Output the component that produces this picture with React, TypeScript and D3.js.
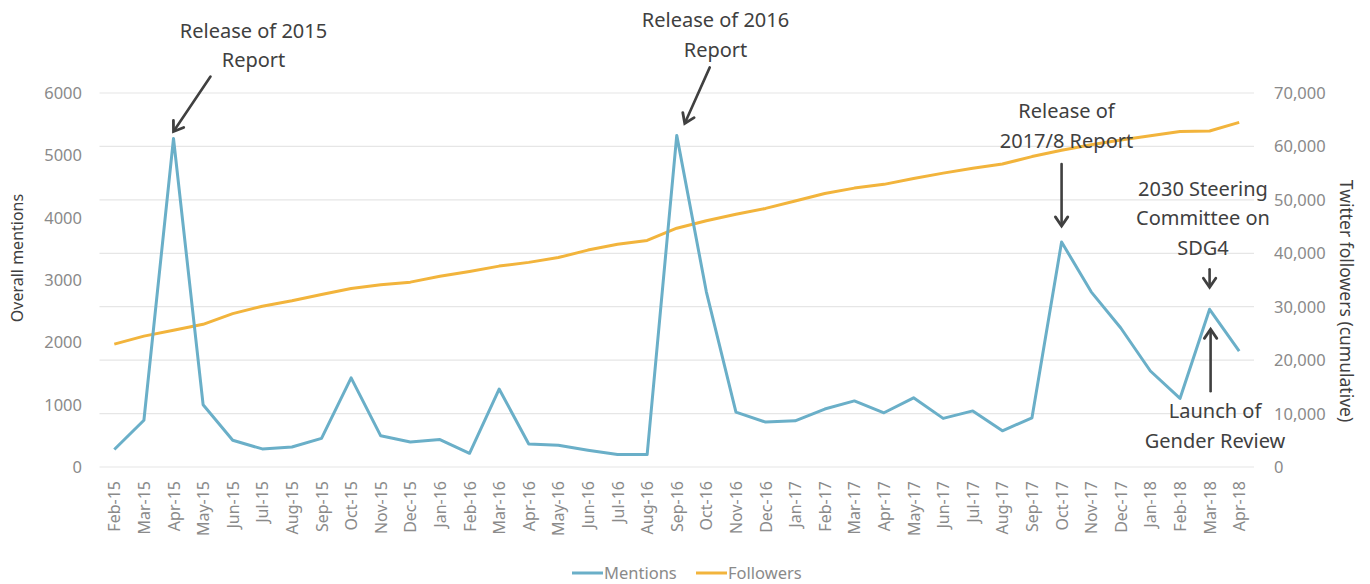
import React from "react";
import * as d3 from "d3";

const months: string[] = [
  "Feb-15","Mar-15","Apr-15","May-15","Jun-15","Jul-15","Aug-15","Sep-15","Oct-15","Nov-15","Dec-15",
  "Jan-16","Feb-16","Mar-16","Apr-16","May-16","Jun-16","Jul-16","Aug-16","Sep-16","Oct-16","Nov-16","Dec-16",
  "Jan-17","Feb-17","Mar-17","Apr-17","May-17","Jun-17","Jul-17","Aug-17","Sep-17","Oct-17","Nov-17","Dec-17",
  "Jan-18","Feb-18","Mar-18","Apr-18",
];

const mentions: number[] = [
  280, 750, 5270, 1000, 430, 290, 320, 460, 1430, 500, 400,
  440, 220, 1250, 370, 350, 270, 200, 200, 5320, 2810, 880, 720,
  740, 930, 1060, 870, 1110, 780, 900, 580, 790, 3610, 2810, 2230,
  1540, 1100, 2530, 1860,
];

const followers: number[] = [
  23000, 24500, 25600, 26700, 28700, 30100, 31100, 32300, 33400, 34100, 34600,
  35700, 36600, 37600, 38300, 39200, 40600, 41700, 42400, 44700, 46100, 47300, 48400,
  49800, 51200, 52200, 52900, 54000, 55000, 55900, 56700, 58100, 59300, 60300, 61200,
  62000, 62800, 62900, 64500,
];

const leftTicks: number[] = [0, 1000, 2000, 3000, 4000, 5000, 6000];
const rightTicks: number[] = [0, 10000, 20000, 30000, 40000, 50000, 60000, 70000];

const seriesNames: string[] = ["Mentions", "Followers"];
const seriesColors: string[] = ["#6aafc8", "#f2b43c"];

const W = 1370;
const H = 584;
const FONT = "'Noto Sans', 'Open Sans', sans-serif";
const TEXT_DARK = "#404040";
const TEXT_GRAY = "#8a8a8a";
const GRID = "#e6e6e6";

const plotLeft = 99.5;
const plotRight = 1254;
const plotTop = 93;
const plotBottom = 467;

function Arrow({ x1, y1, x2, y2 }: { x1: number; y1: number; x2: number; y2: number }) {
  const ang = Math.atan2(y2 - y1, x2 - x1);
  const L = 11;
  const spread = 0.6;
  const ax = x2 - L * Math.cos(ang - spread);
  const ay = y2 - L * Math.sin(ang - spread);
  const bx = x2 - L * Math.cos(ang + spread);
  const by = y2 - L * Math.sin(ang + spread);
  return (
    <g stroke={TEXT_DARK} strokeWidth={2.6} fill="none" strokeLinecap="round" strokeLinejoin="miter">
      <line x1={x1} y1={y1} x2={x2 - 1.5 * Math.cos(ang)} y2={y2 - 1.5 * Math.sin(ang)} />
      <polyline points={`${ax},${ay} ${x2},${y2} ${bx},${by}`} strokeWidth={2.8} />
    </g>
  );
}

function Label({ x, ys, lines }: { x: number; ys: number[]; lines: string[] }) {
  return (
    <g fontFamily={FONT} fontSize={20} fill={TEXT_DARK} textAnchor="middle">
      {lines.map((t, i) => (
        <text key={i} x={x} y={ys[i]}>{t}</text>
      ))}
    </g>
  );
}

export default function App() {
  const x = d3.scaleBand<string>().domain(months).range([plotLeft, plotRight]);
  const cx = (m: string) => (x(m) as number) + x.bandwidth() / 2;
  const yL = d3.scaleLinear().domain([0, 6000]).range([plotBottom, plotTop]);
  const yR = d3.scaleLinear().domain([0, 70000]).range([plotBottom, plotTop]);

  const lineM = d3.line<number>().x((_, i) => cx(months[i])).y((d) => yL(d));
  const lineF = d3.line<number>().x((_, i) => cx(months[i])).y((d) => yR(d));

  const fmt = d3.format(",");
  const idx = (m: string) => months.indexOf(m);

  const pApr15 = { x: cx("Apr-15"), y: yL(mentions[idx("Apr-15")]) };
  const pSep16 = { x: cx("Sep-16"), y: yL(mentions[idx("Sep-16")]) };
  const pOct17 = { x: cx("Oct-17"), y: yL(mentions[idx("Oct-17")]) };
  const pMar18 = { x: cx("Mar-18"), y: yL(mentions[idx("Mar-18")]) };

  return (
    <svg width={W} height={H} style={{ position: "absolute", left: 0, top: 0, background: "#fff" }}>
      {/* gridlines */}
      {rightTicks.map((t) => (
        <line key={t} x1={plotLeft} x2={plotRight} y1={yR(t)} y2={yR(t)} stroke={GRID} strokeWidth={1.2} />
      ))}
      {/* left ticks */}
      <g fontFamily={FONT} fontSize={16.5} fill={TEXT_GRAY} textAnchor="end">
        {leftTicks.map((t) => (
          <text key={t} x={82} y={yL(t) + 6}>{t}</text>
        ))}
      </g>
      {/* right ticks */}
      <g fontFamily={FONT} fontSize={16.5} fill={TEXT_GRAY} textAnchor="start">
        {rightTicks.map((t) => (
          <text key={t} x={1274} y={yR(t) + 6}>{fmt(t)}</text>
        ))}
      </g>
      {/* x labels */}
      <g fontFamily={FONT} fontSize={16} fill={TEXT_GRAY} textAnchor="end">
        {months.map((m) => (
          <text key={m} transform={`translate(${cx(m) + 6},${plotBottom + 14}) rotate(-90)`}>{m}</text>
        ))}
      </g>
      {/* axis titles */}
      <text transform={`translate(23,258) rotate(-90)`} textAnchor="middle"
        fontFamily={FONT} fontSize={16} fill={TEXT_DARK}>Overall mentions</text>
      <text transform={`translate(1340,301) rotate(90)`} textAnchor="middle"
        fontFamily={FONT} fontSize={17.5} fill={TEXT_DARK}>Twitter followers (cumulative)</text>

      {/* lines */}
      <path d={lineF(followers) as string} fill="none" stroke={seriesColors[1]} strokeWidth={3} strokeLinejoin="round" />
      <path d={lineM(mentions) as string} fill="none" stroke={seriesColors[0]} strokeWidth={3} strokeLinejoin="round" />

      {/* annotations */}
      <Label x={253.5} ys={[38, 67]} lines={["Release of 2015", "Report"]} />
      <Arrow x1={pApr15.x + 37} y1={pApr15.y - 62} x2={pApr15.x} y2={pApr15.y - 7} />

      <Label x={715.5} ys={[27, 57]} lines={["Release of 2016", "Report"]} />
      <Arrow x1={pSep16.x + 33} y1={pSep16.y - 68} x2={pSep16.x + 8} y2={pSep16.y - 12} />

      <Label x={1066.5} ys={[118, 148]} lines={["Release of", "2017/8 Report"]} />
      <Arrow x1={pOct17.x} y1={pOct17.y - 78} x2={pOct17.x} y2={pOct17.y - 16} />

      <Label x={1203} ys={[196, 225, 255]} lines={["2030 Steering", "Committee on", "SDG4"]} />
      <Arrow x1={pMar18.x} y1={pMar18.y - 40} x2={pMar18.x} y2={pMar18.y - 22} />

      <Label x={1215} ys={[418, 448]} lines={["Launch of", "Gender Review"]} />
      <Arrow x1={pMar18.x + 1} y1={pMar18.y + 82} x2={pMar18.x + 1} y2={pMar18.y + 20} />

      {/* legend */}
      <g fontFamily={FONT} fontSize={16.5} fill={TEXT_GRAY}>
        <line x1={572} x2={603} y1={573} y2={573} stroke={seriesColors[0]} strokeWidth={3} />
        <text x={604} y={579}>{seriesNames[0]}</text>
        <line x1={696} x2={727} y1={573} y2={573} stroke={seriesColors[1]} strokeWidth={3} />
        <text x={728} y={579}>{seriesNames[1]}</text>
      </g>
    </svg>
  );
}
